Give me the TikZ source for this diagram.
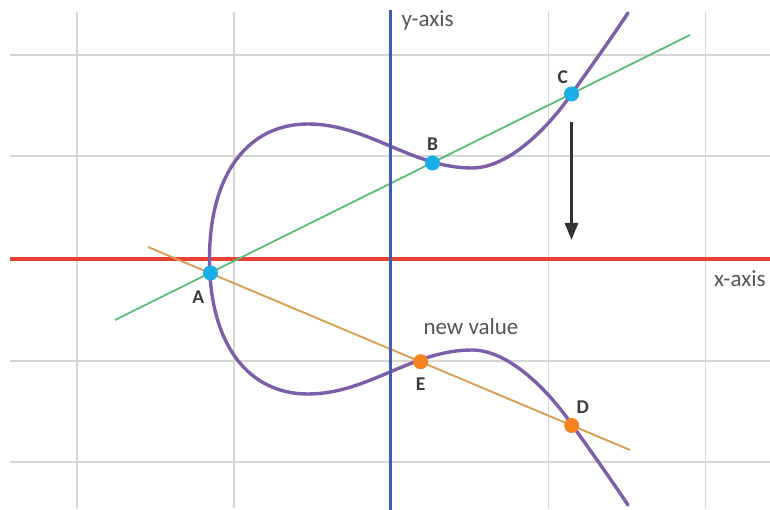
\documentclass[tikz,border=0pt]{standalone}
\usepackage{fontspec}
\setmainfont{Carlito}
\usetikzlibrary{arrows.meta}
\definecolor{gridc}{HTML}{D6D6D6}
\definecolor{redaxis}{HTML}{E8412F}
\definecolor{blueaxis}{HTML}{3F5DB3}
\definecolor{greenl}{HTML}{5DBB7A}
\definecolor{orangel}{HTML}{D9A055}
\definecolor{purplec}{HTML}{7D5EA8}
\definecolor{cyand}{HTML}{1AAEE6}
\definecolor{oranged}{HTML}{F5821F}
\definecolor{txtc}{HTML}{555555}
\definecolor{lblc}{HTML}{3C3C3C}
\definecolor{arrowc}{HTML}{333333}
\tikzset{
  gridline/.style={draw=gridc, line width=1.8pt},
  axisx/.style={draw=redaxis, line width=3.8pt},
  axisy/.style={draw=blueaxis, line width=3.4pt},
  secantg/.style={draw=greenl, line width=1.8pt},
  secanto/.style={draw=orangel, line width=1.9pt},
  curvep/.style={draw=purplec, line width=3.4pt, line cap=round},
  dotb/.style={circle, fill=cyand, minimum size=15pt, inner sep=0pt},
  doto/.style={circle, fill=oranged, minimum size=15pt, inner sep=0pt},
  ptlabel/.style={inner sep=0pt, text=lblc, font=\fontsize{19.5}{22}\selectfont\bfseries},
  axlabel/.style={inner sep=0pt, text=txtc, font=\fontsize{23}{27}\selectfont},
  movearrow/.style={draw=arrowc, line width=2.6pt, -{Triangle[length=17pt,width=13pt]}}
}
\begin{document}
\begin{tikzpicture}[x=1pt,y=-1pt]
\useasboundingbox[fill=white] (0,0) rectangle (770,510);
% grid
\foreach \gx in {77,234,548.5,705.5} \draw[gridline] (\gx,12) -- (\gx,508);
\foreach \gy in {55,156,361,462} \draw[gridline] (10,\gy) -- (770,\gy);
% x-axis
\coordinate (xa1) at (10,259);
\coordinate (xa2) at (770,259);
\draw[axisx] (xa1) -- (xa2);
% secant lines
\coordinate (g1) at (115,320);
\coordinate (g2) at (690,35);
\draw[secantg] (g1) -- (g2);
\coordinate (o1) at (148,247);
\coordinate (o2) at (630,450);
\draw[secanto] (o1) -- (o2);
% curve
\draw[curvep] (628,13) .. controls (610,40) and (590,68) .. (571.5,94)
  .. controls (550,125) and (510,168) .. (472,168)
  .. controls (412,168) and (368,124) .. (308,124)
  .. controls (248,124) and (209.5,174) .. (209.5,259)
  .. controls (209.5,344) and (248,394) .. (308,394)
  .. controls (368,394) and (412,350) .. (472,350)
  .. controls (510,350) and (550,393) .. (571.5,424)
  .. controls (590,450) and (610,478) .. (628,505);
% y-axis
\coordinate (ya1) at (390.5,10);
\coordinate (ya2) at (390.5,510);
\draw[axisy] (ya1) -- (ya2);
% points
\node[dotb] (A) at (210.5,273) {};
\node[dotb] (B) at (432.5,163) {};
\node[dotb] (C) at (571.5,94) {};
\node[doto] (E) at (420.7,361.7) {};
\node[doto] (D) at (571.7,425.5) {};
% arrow
\coordinate (ar1) at (571.5,122);
\coordinate (ar2) at (571.5,240);
\draw[movearrow] (ar1) -- (ar2);
% labels
\node[ptlabel] (lA) at (198.3,296.7) {A};
\node[ptlabel] (lB) at (432.7,144) {B};
\node[ptlabel] (lC) at (562.7,77.3) {C};
\node[ptlabel] (lD) at (582.7,407.3) {D};
\node[ptlabel] (lE) at (420.7,384) {E};
\node[axlabel, anchor=base west] (ly) at (401.5,26.7) {y-axis};
\node[axlabel, anchor=base west] (lx) at (714,286.7) {x-axis};
\node[axlabel, anchor=base west] (lnv) at (423.3,334.3) {new value};
\end{tikzpicture}
\end{document}
